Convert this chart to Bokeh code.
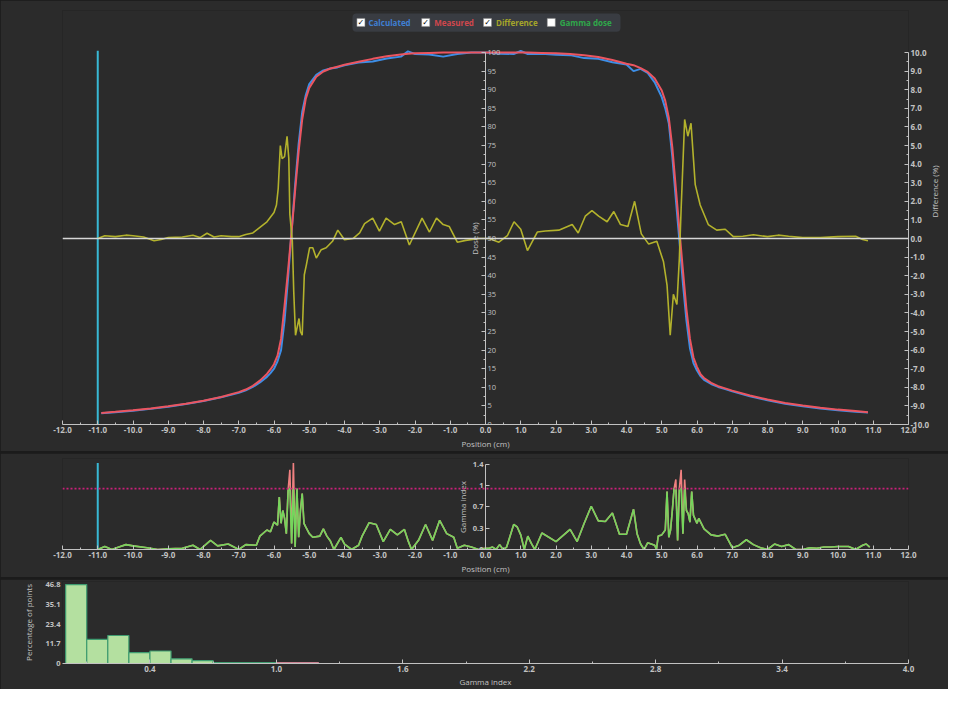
import math
import numpy as np
from bokeh.plotting import figure
from bokeh.models import (Range1d, LinearAxis, FixedTicker, Span, BoxAnnotation,
                          ColumnDataSource, PrintfTickFormatter)
from bokeh.layouts import column
from bokeh.core.properties import value
from bokeh.embed import file_html
from bokeh.resources import INLINE

# ---------------- data ----------------
position_cm = [-10.9, -10.5, -10, -9.5, -9, -8.5, -8, -7.5, -7, -6.8, -6.6, -6.4, -6.2, -6.1, -6.0,
               -5.9, -5.8, -5.7, -5.6, -5.5, -5.4, -5.3, -5.2, -5.1, -5.0, -4.8, -4.6, -4.4, -4.2,
               -4.0, -3.6, -3.2, -2.8, -2.4, -2.2, -2.0, -1.6, -1.2, -0.8, -0.4, 0, 0.4, 0.8, 1.0,
               1.2, 1.6, 2.0, 2.4, 2.8, 3.2, 3.6, 4.0, 4.2, 4.4, 4.6, 4.8, 5.0, 5.1, 5.2, 5.3, 5.4,
               5.5, 5.6, 5.7, 5.8, 5.9, 6.0, 6.1, 6.2, 6.4, 6.6, 6.8, 7.0, 7.5, 8, 8.5, 9, 9.5, 10,
               10.5, 10.85]
measured = [3.1, 3.4, 3.8, 4.3, 4.9, 5.6, 6.4, 7.4, 8.7, 9.4, 10.4, 11.8, 13.6, 14.8, 16.2,
            18.5, 23.0, 32.0, 41.5, 52.0, 63.0, 73.5, 82.0, 87.5, 90.5, 93.5, 94.9, 95.7, 96.2,
            96.7, 97.5, 98.3, 99.0, 99.5, 99.7, 99.8, 99.9, 100, 100, 100, 100, 100, 100, 100,
            100, 99.9, 99.8, 99.6, 99.3, 98.8, 98.0, 97.0, 96.6, 95.8, 94.8, 93.0, 89.8, 87.0,
            82.5, 74.5, 63.5, 52.5, 41.5, 31.0, 23.0, 18.0, 15.5, 13.5, 12.5, 11.2, 10.3, 9.7,
            9.1, 7.8, 6.7, 5.8, 5.1, 4.5, 4.0, 3.6, 3.3]
calculated = [3.0, 3.3, 3.7, 4.2, 4.8, 5.5, 6.3, 7.3, 8.5, 9.2, 10.1, 11.3, 12.8, 13.8, 15.0,
              17.0, 20.0, 28.0, 39.5, 52.0, 64.5, 75.5, 84.0, 88.5, 91.5, 94.0, 95.2, 95.7, 96.0,
              96.6, 97.3, 97.6, 98.4, 98.9, 100.3, 99.6, 99.5, 98.9, 99.6, 100, 100, 99.7, 99.6,
              100.4, 99.6, 99.7, 99.4, 99.3, 98.5, 98.3, 97.4, 96.8, 95.0, 95.6, 94.5, 92.0, 88.0,
              85.0, 81.0, 72.0, 60.5, 49.5, 38.0, 28.0, 20.5, 16.5, 14.5, 13.0, 12.0, 10.9, 10.1,
              9.5, 8.9, 7.6, 6.5, 5.6, 4.9, 4.3, 3.8, 3.4, 3.2]

diff_x = [-11.0, -10.8, -10.5, -10.2, -10.0, -9.7, -9.4, -9.2, -9.0, -8.6, -8.3, -8.1, -7.9, -7.7,
          -7.5, -7.2, -7.0, -6.8, -6.6, -6.4, -6.2, -6.0, -5.93, -5.88, -5.82, -5.77, -5.7, -5.63,
          -5.58, -5.55, -5.48, -5.44, -5.39, -5.29, -5.25, -5.2, -5.14, -5.08, -4.99, -4.9, -4.8,
          -4.66, -4.52, -4.34, -4.19, -4.0, -3.76, -3.57, -3.43, -3.2, -3.01, -2.82, -2.58, -2.39,
          -2.16, -1.8, -1.59, -1.39, -1.2, -1.03, -0.8, -0.56, -0.18, 0.1, 0.38, 0.62, 0.81, 1.0,
          1.19, 1.47, 1.7, 2.08, 2.46, 2.63, 2.83, 3.02, 3.21, 3.45, 3.64, 3.83, 4.04, 4.23, 4.42,
          4.63, 4.86, 5.05, 5.15, 5.24, 5.33, 5.43, 5.5, 5.55, 5.65, 5.74, 5.83, 5.95, 6.09, 6.32,
          6.56, 6.8, 7.03, 7.3, 7.6, 8.0, 8.3, 8.6, 9.0, 9.5, 10.0, 10.5, 10.7, 10.85]
diff_pct = [0.0, 0.15, 0.1, 0.18, 0.15, 0.08, -0.12, -0.05, 0.05, 0.08, 0.18, 0.05, 0.28, 0.08,
            0.15, 0.1, 0.1, 0.22, 0.3, 0.6, 0.9, 1.4, 1.8, 2.7, 5.0, 4.3, 4.4, 5.5,
            4.3, 1.3, -0.15, -2.85, -5.2, -4.3, -5.0, -5.2, -1.95, -1.4, -0.5, -0.5, -1.05,
            -0.6, -0.5, -0.15, 0.45, -0.07, 0.0, 0.3, 0.8, 1.1, 0.4, 1.1, 0.75, 0.9,
            -0.35, 1.1, 0.35, 1.1, 0.75, 0.65, -0.2, -0.1, 0.0, 0.0, -0.2, 0.15, 0.9, 0.5,
            -0.65, 0.35, 0.4, 0.45, 0.75, 0.3, 1.2, 1.5, 1.2, 0.9, 1.45, 0.75, 0.65, 2.0, 0.25,
            -0.3, -0.15, -1.25, -2.5, -5.2, -3.0, -3.55, -1.05, 1.6, 6.4, 5.5, 6.2, 2.9, 1.8, 0.75,
            0.45, 0.5, 0.1, 0.12, 0.2, 0.1, 0.18, 0.12, 0.05, 0.05, 0.1, 0.12, -0.05, -0.12]

gamma_x = [-11.0, -10.8, -10.6, -10.4, -10.2, -10.0, -9.6, -9.3, -9.0, -8.6, -8.3, -8.1, -7.8, -7.6,
           -7.3, -7.0, -6.8, -6.5, -6.4, -6.2, -6.1, -6.0, -5.9, -5.85, -5.8, -5.75, -5.7, -5.65,
           -5.6, -5.55, -5.5, -5.45, -5.4, -5.35, -5.3, -5.25, -5.2, -5.15, -5.1, -5.0, -4.9, -4.7,
           -4.6, -4.5, -4.4, -4.3, -4.1, -4.0, -3.8, -3.6, -3.5, -3.3, -3.1, -2.9, -2.7, -2.5, -2.3,
           -2.2, -2.1, -1.9, -1.7, -1.5, -1.3, -1.1, -0.9, -0.8, -0.6, -0.4, -0.2, 0.0,
           0.1, 0.2, 0.3, 0.4, 0.5, 0.6, 0.8, 0.9, 1.0, 1.1, 1.2, 1.3, 1.4, 1.6, 2.0, 2.4, 2.6, 2.8,
           3.0, 3.2, 3.4, 3.6, 3.8, 4.0, 4.2, 4.3, 4.4, 4.5, 4.6, 4.8, 4.85, 4.9, 5.0, 5.1, 5.15,
           5.2, 5.25, 5.3, 5.35, 5.4, 5.45, 5.5, 5.55, 5.6, 5.65, 5.7, 5.75, 5.8, 5.85, 5.9, 6.0,
           6.05, 6.2, 6.4, 6.6, 6.8, 7.0, 7.2, 7.4, 7.6, 7.8, 8.0, 8.2, 8.4, 8.6, 8.8, 9.0, 9.2,
           9.4, 9.6, 9.8, 10.0, 10.3, 10.5, 10.7, 10.8, 10.9]
gamma_val = [0, 0.05, 0, 0.04, 0.08, 0.06, 0.03, 0, 0.01, 0.02, 0.07, 0, 0.15, 0.06,
             0.09, 0, 0.08, 0.07, 0.22, 0.32, 0.29, 0.45, 0.40, 0.86, 0.43, 0.64, 0.51, 0.26,
             0.97, 1.31, 0.10, 1.42, 0.04, 1.0, 0.2, 0.64, 0.92, 0.43, 0.37, 0.26, 0.2, 0.22,
             0.34, 0.22, 0.14, 0, 0.2, 0.09, 0, 0.07, 0.22, 0.44, 0.41, 0.13, 0.33, 0.24, 0.33,
             0.15, 0, 0.15, 0.41, 0.15, 0.48, 0.26, 0.2, 0.02, 0.07, 0.04, 0, 0.02,
             0.02, 0.04, 0, 0.08, 0, 0.04, 0.41, 0.37, 0.24, 0, 0.22, 0.1, 0, 0.27, 0.13, 0.33, 0.13, 0.43,
             0.71, 0.47, 0.46, 0.6, 0.25, 0.25, 0.66, 0.26, 0.09, 0, 0.11, 0.07, 0, 0.22, 0.24, 0.32, 0.95,
             0.2, 0.32, 0.64, 1.0, 1.15, 0.15, 1.0, 1.31, 0.26, 1.15, 0.64, 0.59, 0.45, 0.95, 0.56, 0.43,
             0.51, 0.34, 0.24, 0.22, 0.25, 0.03, 0.07, 0.16, 0.08, 0.03, 0, 0.09, 0.05, 0.08, 0, 0, 0.03,
             0.02, 0.04, 0.04, 0.05, 0.05, 0, 0.07, 0.09, 0.04]

cursor_x = -11.0
cursor_dose_top = 100.5
cursor_gamma_top = 1.42
gamma_threshold = 1.0

hist_left = [0.0, 0.1, 0.2, 0.3, 0.4, 0.5, 0.6, 0.7, 0.8, 0.9, 1.0, 1.1]
hist_pct = [46.8, 14.3, 16.6, 6.5, 7.4, 2.8, 1.7, 0.5, 0.5, 0.6, 0.5, 0.5]
hist_bin_width = 0.1

pos_ticks = list(range(-12, 13))
dose_ticks = list(range(0, 101, 5))
diff_ticks = list(range(-10, 11))
gamma_ticks = [0, 0.35, 0.7, 1.05, 1.4]
gamma_tick_labels = ["0", "0.3", "0.7", "1", "1.4"]
hist_x_ticks = [0.4, 1.0, 1.6, 2.2, 2.8, 3.4, 4.0]
hist_y_ticks = [0, 11.7, 23.4, 35.1, 46.8]

legend_names = ["Calculated", "Measured", "Difference", "Gamma dose"]
legend_checked = [True, True, True, False]

# ---------------- style ----------------
BG = "#2b2b2b"
AX = "#c2c2c2"
FONT = "Open Sans"
C_CALC = "#3d8ee6"
C_MEAS = "#ec5560"
C_DIFF = "#b3b22c"
C_GAM = "#74d65c"
C_GAM_HI = "#f08080"
C_CURSOR = "#39b8d4"
LEGEND_TXT = ["#3f7fd2", "#cf474d", "#a5a52a", "#2fa84a"]


def style_axis(ax):
    ax.axis_line_color = AX
    ax.major_tick_line_color = AX
    ax.minor_tick_line_color = AX
    ax.major_label_text_color = AX
    ax.major_label_text_font = FONT
    ax.major_label_text_font_size = "8px"
    ax.major_label_text_font_style = "bold"
    ax.axis_label_text_color = AX
    ax.axis_label_text_font = FONT
    ax.axis_label_text_font_size = "8px"
    ax.axis_label_text_font_style = "normal"
    ax.major_tick_in = 4
    ax.major_tick_out = 0
    ax.minor_tick_in = 2
    ax.minor_tick_out = 0
    ax.major_label_standoff = 2
    ax.axis_label_standoff = 2


def base_fig(w, h, xr, yr, **kw):
    f = figure(width=w, height=h, x_range=xr, y_range=yr, output_backend="svg",
               toolbar_location=None, background_fill_color=BG, border_fill_color=BG,
               y_axis_location=None, **kw)
    f.outline_line_color = None
    f.xgrid.visible = False
    f.ygrid.visible = False
    return f

# ---------------- top: dose profiles ----------------
p1 = base_fig(948, 451, Range1d(-12, 12), Range1d(0, 111.3),
              min_border_left=62, min_border_right=37, min_border_top=10, min_border_bottom=27)
p1.extra_y_ranges = {"diff": Range1d(-10, 12.26)}

xa = p1.xaxis[0]
style_axis(xa)
xa.ticker = FixedTicker(ticks=pos_ticks, minor_ticks=[t + 0.5 for t in pos_ticks[:-1]])
xa.formatter = PrintfTickFormatter(format="%.1f")
xa.axis_label = "Position (cm)"

diff_ax = LinearAxis(y_range_name="diff", bounds=(-10, 10), axis_label="Difference (%)",
                     ticker=FixedTicker(ticks=diff_ticks,
                                        minor_ticks=[t + 0.5 for t in diff_ticks[:-1]]),
                     formatter=PrintfTickFormatter(format="%.1f"))
style_axis(diff_ax)
diff_ax.axis_label_orientation = math.pi / 2
p1.add_layout(diff_ax, "right")

dose_ax = LinearAxis(fixed_location=0, bounds=(0, 100),
                     ticker=FixedTicker(ticks=dose_ticks,
                                        minor_ticks=[t + 2.5 for t in dose_ticks[:-1]]))
style_axis(dose_ax)
dose_ax.major_label_text_font_style = "normal"
dose_ax.major_label_text_font_size = "7.5px"
p1.add_layout(dose_ax, "right")

dose_title = LinearAxis(fixed_location=0, bounds=(0, 100), ticker=FixedTicker(ticks=[]),
                        axis_label="Dose (%)")
style_axis(dose_title)
dose_title.axis_line_color = None
dose_title.axis_label_standoff = 6
p1.add_layout(dose_title, "left")

p1.add_layout(Span(location=0, dimension="width", y_range_name="diff",
                   line_color="#d6d6d6", line_width=1.5))

p1.segment(x0=[cursor_x], y0=[0], x1=[cursor_x], y1=[cursor_dose_top],
           line_color=C_CURSOR, line_width=2)
p1.line(position_cm, calculated, line_color=C_CALC, line_width=2)
p1.line(position_cm, measured, line_color=C_MEAS, line_width=2)
p1.line(diff_x, diff_pct, line_color=C_DIFF, line_width=1.6, y_range_name="diff")

# legend (checkbox strip), placed in the free band above the profiles
p1.add_layout(BoxAnnotation(left=-3.774, right=3.830, bottom=105.6, top=110.5,
                            fill_color="#393c42", fill_alpha=1, line_color=None,
                            border_radius=4, level="underlay"))
box_x = [-3.534, -1.696, 0.057, 1.866]
txt_x = [-3.322, -1.456, 0.297, 2.106]
leg_y = [108.1] * 4
p1.scatter(box_x, leg_y, marker="square", size=8, fill_color="white",
           line_color="#888888", line_width=0.5)
chk = ColumnDataSource(dict(x=[bx for bx, c in zip(box_x, legend_checked) if c],
                            y=[108.1 for c in legend_checked if c],
                            t=["\u2713" for c in legend_checked if c]))
p1.text(x="x", y="y", text="t", source=chk, text_font=value("DejaVu Sans"),
        text_font_size=value("8px"), text_font_style="bold", text_color="black",
        text_align="center", text_baseline="middle")
leg = ColumnDataSource(dict(x=txt_x, y=leg_y, t=legend_names, c=LEGEND_TXT))
p1.text(x="x", y="y", text="t", source=leg, text_color="c", text_font=value(FONT),
        text_font_size=value("8px"), text_font_style="bold", text_baseline="middle")

# ---------------- middle: gamma along position ----------------
p2 = base_fig(948, 124, Range1d(-12, 12), Range1d(0, 1.494),
              min_border_left=53, min_border_right=10, min_border_top=5, min_border_bottom=28)
xa2 = p2.xaxis[0]
style_axis(xa2)
xa2.ticker = FixedTicker(ticks=pos_ticks, minor_ticks=[t + 0.5 for t in pos_ticks[:-1]])
xa2.formatter = PrintfTickFormatter(format="%.1f")
xa2.axis_label = "Position (cm)"

g_ax = LinearAxis(fixed_location=0, bounds=(0, 1.4), axis_label="Gamma index",
                  ticker=FixedTicker(ticks=gamma_ticks, minor_ticks=[]),
                  major_label_overrides={t: s for t, s in zip(gamma_ticks, gamma_tick_labels)})
style_axis(g_ax)
g_ax.major_label_text_font_size = "7.5px"
p2.add_layout(g_ax, "left")

p2.add_layout(Span(location=gamma_threshold, dimension="width", line_color="#c8207a",
                   line_width=1.6, line_dash="2 2"))
p2.segment(x0=[cursor_x], y0=[0], x1=[cursor_x], y1=[cursor_gamma_top],
           line_color=C_CURSOR, line_width=2)
p2.line(gamma_x, gamma_val, line_color=C_GAM_HI, line_width=1.6)
p2.line(gamma_x, list(np.minimum(np.array(gamma_val), gamma_threshold)),
        line_color=C_GAM, line_width=1.6)

# ---------------- bottom: gamma histogram ----------------
p3 = base_fig(948, 110, Range1d(-0.015, 4.0), Range1d(0, 48.6),
              min_border_left=58, min_border_right=10, min_border_top=2, min_border_bottom=24)
xa3 = p3.xaxis[0]
style_axis(xa3)
xa3.ticker = FixedTicker(ticks=hist_x_ticks,
                         minor_ticks=[t + 0.3 for t in hist_x_ticks[:-1]] + [0.1])
xa3.formatter = PrintfTickFormatter(format="%.1f")
xa3.axis_label = "Gamma index"
xa3.axis_label_standoff = 1

ya3 = LinearAxis(ticker=FixedTicker(ticks=hist_y_ticks, minor_ticks=[]),
                 formatter=PrintfTickFormatter(format="%.1f"),
                 major_label_overrides={0: "0"}, axis_label="Percentage of points")
style_axis(ya3)
ya3.axis_line_color = None
ya3.major_tick_line_color = None
ya3.major_label_text_font_size = "7.5px"
ya3.axis_label_standoff = 8
p3.add_layout(ya3, "left")

hist_right = [l + hist_bin_width for l in hist_left]
hist_fill = ["#b4e0a0" if l < 1.0 else "#e4a6b0" for l in hist_left]
hist_line = ["#3f9c70" if l < 1.0 else "#c88090" for l in hist_left]
p3.quad(left=hist_left, right=hist_right, bottom=0, top=hist_pct,
        fill_color=hist_fill, line_color=hist_line, line_width=1.2)

layout = column(p1, p2, p3, spacing=2, styles={"background-color": "#1b1b1b"})

open("out.html", "w").write(file_html(layout, INLINE))
